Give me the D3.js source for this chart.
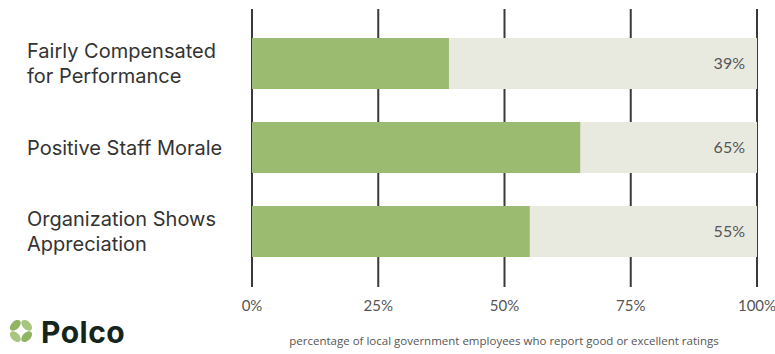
<!DOCTYPE html>
<html>
<head>
<meta charset="utf-8">
<script src="https://cdn.jsdelivr.net/npm/d3@7"></script>
<style>
  html, body { margin: 0; padding: 0; background: #ffffff; }
  svg { display: block; }
</style>
</head>
<body>
<svg id="chart" width="775" height="354"></svg>
<script>
// ---- data ----
const categories = [
  ["Fairly Compensated", "for Performance"],
  ["Positive Staff Morale"],
  ["Organization Shows", "Appreciation"]
];
const values = [39, 65, 55];
const tickValues = [0, 25, 50, 75, 100];
const tickLabels = ["0%", "25%", "50%", "75%", "100%"];
const axisTitle = "percentage of local government employees who report good or excellent ratings";
const brandName = "Polco";

// ---- styles ----
const green = "#9bbb71";
const track = "#e9eadf";
const gridColor = "#3a3a3a";

const svg = d3.select("#chart");
const keys = categories.map((c, i) => i);

const x = d3.scaleLinear().domain([0, 100]).range([252, 757]);
const y = d3.scaleBand().domain(keys).range([21.5, 273.5]).paddingInner(0.393).paddingOuter(0.1965);

// grid lines
svg.append("g").selectAll("line").data(tickValues).join("line")
  .attr("x1", d => x(d)).attr("x2", d => x(d))
  .attr("y1", 9).attr("y2", 287)
  .attr("stroke", gridColor).attr("stroke-width", 2);

// track bars
svg.append("g").selectAll("rect").data(keys).join("rect")
  .attr("x", x(0)).attr("y", d => y(d))
  .attr("width", x(100) - x(0)).attr("height", y.bandwidth())
  .attr("fill", track);

// value bars
svg.append("g").selectAll("rect").data(keys).join("rect")
  .attr("x", x(0)).attr("y", d => y(d))
  .attr("width", d => x(values[d]) - x(0)).attr("height", y.bandwidth())
  .attr("fill", green);

// value labels
svg.append("g").selectAll("text").data(keys).join("text")
  .attr("x", 745).attr("y", d => y(d) + y.bandwidth() / 2)
  .attr("dy", "0.36em")
  .attr("text-anchor", "end")
  .attr("font-family", "Lato, 'Open Sans', sans-serif")
  .attr("font-size", 16)
  .attr("fill", "#555")
  .text(d => values[d] + "%");

// category labels
const catG = svg.append("g").selectAll("text").data(keys).join("text")
  .attr("font-family", "Inter, 'Noto Sans', sans-serif")
  .attr("font-size", 20)
  .attr("fill", "#333")
  .attr("x", 27)
  .attr("y", d => y(d) + y.bandwidth() / 2);
catG.each(function(d) {
  const lines = categories[d];
  const n = lines.length;
  d3.select(this).selectAll("tspan").data(lines).join("tspan")
    .attr("x", 27)
    .attr("dy", (l, i) => i === 0 ? ((0.36 - (n - 1) * 0.625) + "em") : "1.25em")
    .text(l => l);
});

// x axis tick labels
svg.append("g").selectAll("text").data(tickValues).join("text")
  .attr("x", d => x(d)).attr("y", 311)
  .attr("text-anchor", "middle")
  .attr("font-family", "Lato, 'Open Sans', sans-serif")
  .attr("font-size", 15)
  .attr("fill", "#555")
  .text((d, i) => tickLabels[i]);

// axis title
svg.append("text")
  .attr("x", 504).attr("y", 345)
  .attr("text-anchor", "middle")
  .attr("font-family", "'Open Sans', sans-serif")
  .attr("font-size", 11.5)
  .attr("fill", "#555")
  .text(axisTitle);

// logo
const logo = svg.append("g").attr("transform", "translate(21,331)");
[45, 135, 225, 315].forEach((a, i) => {
  logo.append("ellipse")
    .attr("cx", 0).attr("cy", -8)
    .attr("rx", 6.5).attr("ry", 4)
    .attr("transform", `rotate(${a})`)
    .attr("fill", i % 2 ? "#8fb462" : "#a8c67d");
});
svg.append("text")
  .attr("x", 41).attr("y", 343)
  .attr("font-family", "Inter, 'Noto Sans', sans-serif")
  .attr("font-weight", 700)
  .attr("font-size", 30)
  .attr("letter-spacing", 0.5)
  .attr("fill", "#15251d")
  .text(brandName);
</script>
</body>
</html>
